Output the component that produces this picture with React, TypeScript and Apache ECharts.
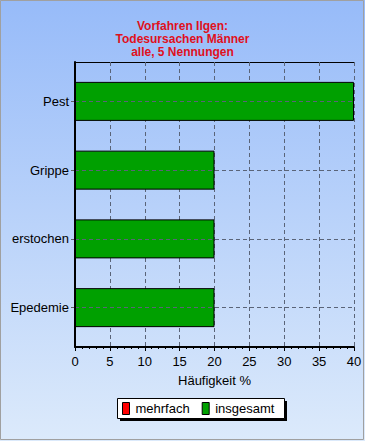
import React, { useEffect, useRef } from "react";
import * as echarts from "echarts";

const categories = ["Pest", "Grippe", "erstochen", "Epedemie"];
const mehrfach = [0, 0, 0, 0];
const insgesamt = [40, 20, 20, 20];
const xTicks = { min: 0, max: 40, interval: 5 };
const titleText = "Vorfahren Ilgen:\nTodesursachen Männer\nalle, 5 Nennungen";

export default function App() {
  const ref = useRef<HTMLDivElement>(null);
  useEffect(() => {
    document.body.style.margin = "0";
    const chart = echarts.init(ref.current!, null, { renderer: "svg" });
    const font = "Liberation Sans, Arial, sans-serif";
    const gridDash = { color: "#5a6478", type: [4, 3], width: 1 };
    chart.setOption({
      animation: false,
      backgroundColor: new echarts.graphic.LinearGradient(0, 0, 0, 1, [
        { offset: 0, color: "#97bbf9" },
        { offset: 1, color: "#dceafb" },
      ]),
      textStyle: { fontFamily: font },
      title: {
        text: titleText,
        left: "center",
        top: 14,
        textStyle: {
          color: "#e0101c",
          fontWeight: "bold",
          fontSize: 12,
          lineHeight: 13,
          fontFamily: font,
        },
      },
      grid: [
        { left: 75, top: 62, right: 11, bottom: 94, containLabel: false },
        { left: 75, top: 67, right: 11, bottom: 99, containLabel: false },
      ],
      legend: {
        data: ["mehrfach", "insgesamt"],
        top: 402,
        left: 122,
        padding: 0,
        icon: "rect",
        itemWidth: 7,
        itemHeight: 12,
        itemGap: 12,
        selectedMode: false,
        textStyle: { fontSize: 13, color: "#000", fontFamily: font, padding: [0, 0, 0, 1] },
        itemStyle: { borderColor: "#000", borderWidth: 1 },
      },
      graphic: [
        {
          type: "rect",
          z: -1,
          shape: { x: 0.5, y: 0.5, width: 363, height: 439 },
          style: { fill: "none", stroke: "#a0a0a0", lineWidth: 1 },
        },
        {
          type: "rect",
          z: 0,
          shape: { x: 120, y: 401, width: 167, height: 20 },
          style: { fill: "#000" },
        },
        {
          type: "rect",
          z: 0,
          shape: { x: 117.5, y: 398.5, width: 167, height: 20 },
          style: { fill: "#fff", stroke: "#000", lineWidth: 1 },
        },
      ],
      xAxis: [
        {
          type: "value",
          gridIndex: 0,
          min: xTicks.min,
          max: xTicks.max,
          interval: xTicks.interval,
          name: "Häufigkeit %",
          nameLocation: "middle",
          nameGap: 27,
          nameTextStyle: { fontSize: 13, color: "#000", fontFamily: font },
          axisLine: { show: true, lineStyle: { color: "#000", width: 2 } },
          axisTick: { show: true, length: 4, lineStyle: { color: "#000" } },
          minorTick: { show: true, splitNumber: 5, length: 2, lineStyle: { color: "#000" } },
          axisLabel: { fontSize: 13, color: "#000", margin: 8, fontFamily: font },
          splitLine: { show: true, lineStyle: gridDash },
          z: 1,
        },
        {
          type: "value",
          gridIndex: 0,
          position: "top",
          min: xTicks.min,
          max: xTicks.max,
          interval: xTicks.interval,
          axisLine: { show: true, lineStyle: { color: "#000", width: 1 } },
          axisTick: { show: false },
          axisLabel: { show: false },
          splitLine: { show: false },
        },
        {
          type: "value",
          gridIndex: 1,
          show: false,
          min: xTicks.min,
          max: xTicks.max,
          interval: xTicks.interval,
          splitLine: { show: false },
        },
      ],
      yAxis: [
        {
          type: "value",
          gridIndex: 0,
          min: 0,
          max: 1,
          interval: 1,
          axisLine: { show: true, lineStyle: { color: "#000", width: 2 } },
          axisTick: { show: false },
          axisLabel: { show: false },
          splitLine: { show: false },
          z: 5,
        },
        {
          type: "category",
          gridIndex: 1,
          data: categories,
          inverse: true,
          axisLine: { show: false },
          axisTick: { show: true, alignWithLabel: true, length: 4, lineStyle: { color: "#606060" } },
          axisLabel: { fontSize: 13, color: "#000", margin: 6, fontFamily: font },
          splitLine: { show: false },
        },
      ],
      series: [
        {
          name: "mehrfach",
          type: "bar",
          xAxisIndex: 2,
          yAxisIndex: 1,
          stack: "a",
          z: 1,
          barWidth: 39,
          data: mehrfach,
          itemStyle: { color: "#ff0000", borderWidth: 0 },
          markLine: {
            silent: true,
            symbol: "none",
            label: { show: false },
            lineStyle: gridDash,
            data: categories.map((c) => ({ yAxis: c })),
          },
        },
        {
          name: "insgesamt",
          type: "bar",
          xAxisIndex: 2,
          yAxisIndex: 1,
          stack: "a",
          z: 3,
          barWidth: 39,
          data: insgesamt,
          itemStyle: { color: "#00a000", borderColor: "#000", borderWidth: 1 },
        },
      ],
    });
    return () => chart.dispose();
  }, []);
  return (
    <div
      ref={ref}
      style={{ position: "absolute", left: 0, top: 0, width: 365, height: 441 }}
    />
  );
}
